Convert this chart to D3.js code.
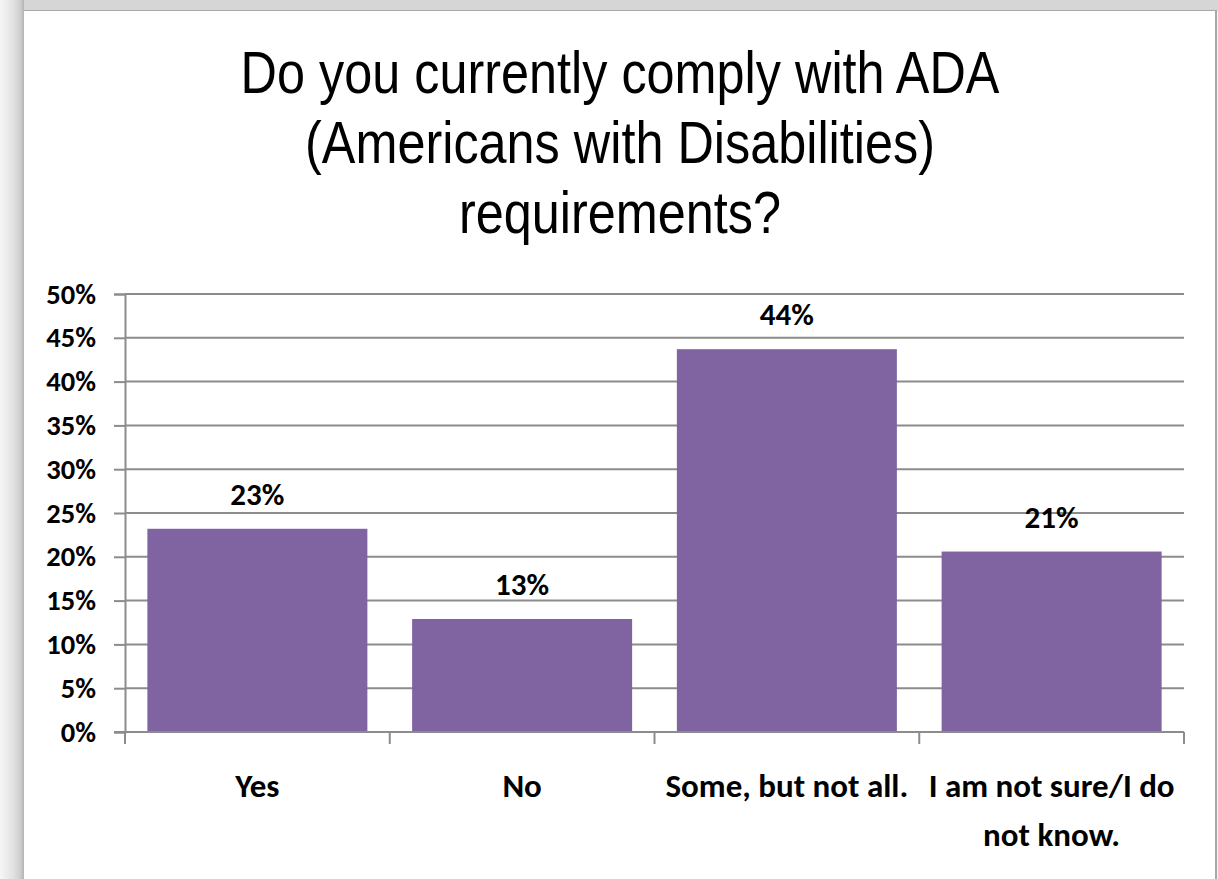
<!DOCTYPE html>
<html>
<head>
<meta charset="utf-8">
<script src="https://cdn.jsdelivr.net/npm/d3@7"></script>
<style>
  html, body { margin: 0; padding: 0; background: #ffffff; }
  svg { display: block; }
</style>
</head>
<body>
<svg id="chart" width="1218" height="879"></svg>
<script>
// Survey responses
const titleLines = [
  "Do you currently comply with ADA",
  "(Americans with Disabilities)",
  "requirements?"
];
const categories = ["Yes", "No", "Some, but not all.", "I am not sure/I do not know."];
const shares = [0.232, 0.129, 0.437, 0.206];
const yTicks = [0, 0.05, 0.10, 0.15, 0.20, 0.25, 0.30, 0.35, 0.40, 0.45, 0.50];

const W = 1218, H = 879;
const svg = d3.select("#chart");

// ---- slide frame with soft shadow on the left/top ----
const defs = svg.append("defs");
const lg = defs.append("linearGradient").attr("id", "leftShade")
  .attr("x1", 0).attr("x2", 1).attr("y1", 0).attr("y2", 0);
lg.append("stop").attr("offset", "0%").attr("stop-color", "#f6f6f6");
lg.append("stop").attr("offset", "55%").attr("stop-color", "#e2e2e2");
lg.append("stop").attr("offset", "85%").attr("stop-color", "#cdcdcd");
lg.append("stop").attr("offset", "100%").attr("stop-color", "#b4b4b4");

svg.append("rect").attr("x", 0).attr("y", 0).attr("width", W).attr("height", H).attr("fill", "#f4f4f4");
svg.append("rect").attr("x", 0).attr("y", 0).attr("width", W).attr("height", 11).attr("fill", "#d6d6d6");
svg.append("rect").attr("x", 0).attr("y", 0).attr("width", 24).attr("height", H).attr("fill", "url(#leftShade)");
svg.append("rect").attr("x", 24).attr("y", 11).attr("width", 1191).attr("height", H - 11).attr("fill", "#ffffff");
svg.append("line").attr("x1", 24).attr("x2", 1216).attr("y1", 10.5).attr("y2", 10.5)
  .attr("stroke", "#a8a8a8").attr("stroke-width", 1);
svg.append("line").attr("x1", 1216).attr("x2", 1216).attr("y1", 10).attr("y2", H)
  .attr("stroke", "#a8a8a8").attr("stroke-width", 2);

// ---- title (narrow sans, horizontally condensed) ----
const title = svg.append("text")
  .attr("transform", "translate(620,0) scale(0.84,1)")
  .attr("text-anchor", "middle")
  .attr("font-family", "'Liberation Sans', Arial, sans-serif")
  .attr("font-size", 60)
  .attr("fill", "#000");
titleLines.forEach((t, i) => {
  title.append("tspan").attr("x", 0).attr("y", 93 + i * 70).text(t);
});

// ---- plot area ----
const plot = { left: 125, right: 1184, top: 294, bottom: 732 };
const x = d3.scaleBand()
  .domain(categories)
  .range([plot.left, plot.right])
  .paddingInner(0.169)
  .paddingOuter(0.0845);
const y = d3.scaleLinear().domain([0, 0.5]).range([plot.bottom, plot.top]);

const gridColor = "#8c8c8c";
const labelFont = "Carlito, Lato, 'Open Sans', sans-serif";

// horizontal gridlines + y axis
const yAxis = d3.axisLeft(y)
  .tickValues(yTicks)
  .tickFormat(d3.format(".0%"))
  .tickSize(11)
  .tickPadding(18);
const gy = svg.append("g").attr("transform", `translate(${plot.left},0)`).call(yAxis);
gy.select(".domain").attr("stroke", gridColor).attr("stroke-width", 2);
gy.selectAll(".tick line").attr("stroke", gridColor).attr("stroke-width", 2);
gy.selectAll(".tick text")
  .attr("font-family", labelFont).attr("font-weight", "bold")
  .attr("font-size", 28.5).attr("fill", "#000");

svg.append("g").selectAll("line").data(yTicks).join("line")
  .attr("x1", plot.left).attr("x2", plot.right)
  .attr("y1", d => y(d)).attr("y2", d => y(d))
  .attr("stroke", gridColor).attr("stroke-width", 2);

// bars
svg.append("g").selectAll("rect").data(categories).join("rect")
  .attr("x", d => x(d))
  .attr("width", x.bandwidth())
  .attr("y", (d, i) => y(shares[i]))
  .attr("height", (d, i) => y(0) - y(shares[i]))
  .attr("fill", "#8064a2");

// x axis: ticks on category boundaries
const bounds = d3.range(categories.length + 1).map(i => plot.left + i * x.step());
const gx = svg.append("g");
gx.append("line").attr("x1", plot.left - 11).attr("x2", plot.right)
  .attr("y1", y(0)).attr("y2", y(0))
  .attr("stroke", gridColor).attr("stroke-width", 2);
gx.selectAll("line.tk").data(bounds).join("line").attr("class", "tk")
  .attr("x1", d => d).attr("x2", d => d)
  .attr("y1", y(0)).attr("y2", y(0) + 12)
  .attr("stroke", gridColor).attr("stroke-width", 2);

// category labels, wrapped to the band width
const catText = svg.append("g").selectAll("text").data(categories).join("text")
  .attr("text-anchor", "middle")
  .attr("font-family", labelFont).attr("font-weight", "bold")
  .attr("font-size", 33).attr("fill", "#000")
  .attr("x", d => x(d) + x.bandwidth() / 2)
  .attr("y", y(0) + 65);

catText.each(function (d) {
  const el = d3.select(this);
  const cx = x(d) + x.bandwidth() / 2;
  const words = d.split(" ");
  let line = [];
  let tspan = el.append("tspan").attr("x", cx).attr("dy", 0);
  words.forEach(w => {
    line.push(w);
    tspan.text(line.join(" "));
    if (tspan.node().getComputedTextLength() > x.step() - 4 && line.length > 1) {
      line.pop();
      tspan.text(line.join(" "));
      line = [w];
      tspan = el.append("tspan").attr("x", cx).attr("dy", 49).text(w);
    }
  });
});

// value labels above bars
svg.append("g").selectAll("text").data(categories).join("text")
  .attr("text-anchor", "middle")
  .attr("font-family", labelFont).attr("font-weight", "bold")
  .attr("font-size", 31).attr("fill", "#000")
  .attr("x", d => x(d) + x.bandwidth() / 2)
  .attr("y", (d, i) => y(shares[i]) - 24)
  .text((d, i) => d3.format(".0%")(shares[i]));
</script>
</body>
</html>
